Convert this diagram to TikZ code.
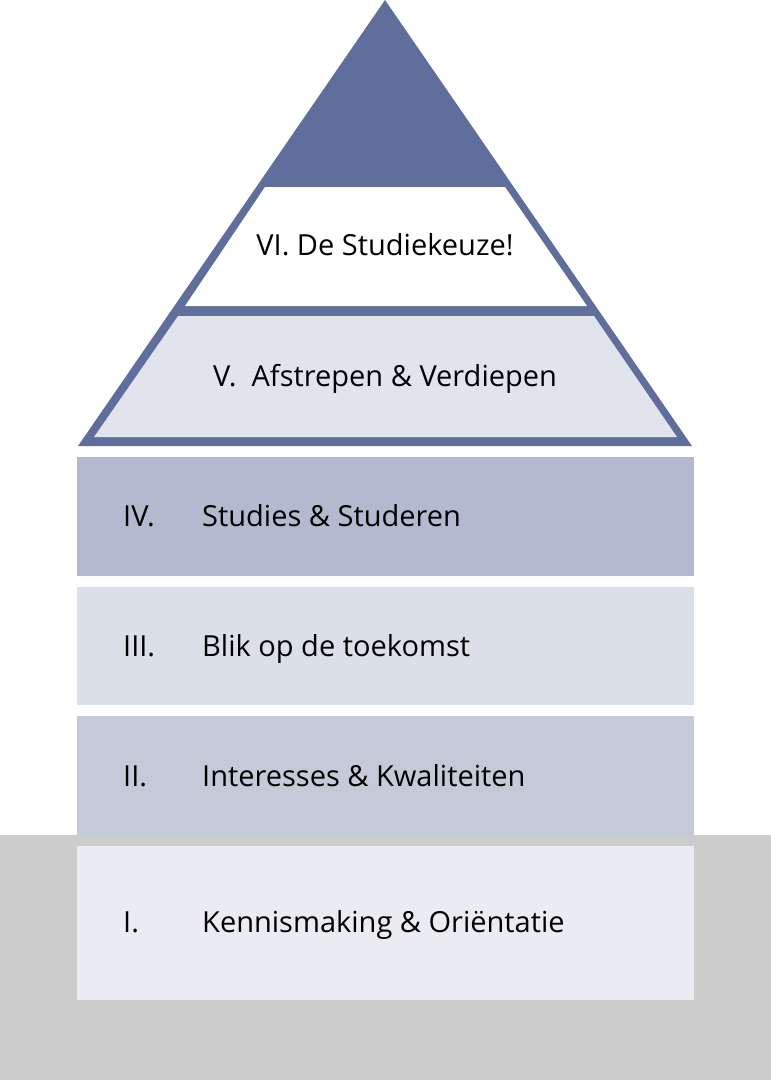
\documentclass[tikz,border=0pt]{standalone}
\usepackage{fontspec}
\setmainfont{Open Sans}
\definecolor{pyrdark}{HTML}{5F6E9A}
\definecolor{layerone}{HTML}{EBECF2}
\definecolor{layertwo}{HTML}{C5CAD9}
\definecolor{layerthree}{HTML}{DADFEA}
\definecolor{layerfour}{HTML}{B3B9CF}
\definecolor{layerfive}{HTML}{E1E4EC}
\definecolor{ground}{HTML}{CCCCCC}
\tikzset{
  lbl/.style={anchor=west, inner sep=0pt, text height=21pt, text depth=6pt,
    font=\fontsize{29}{34}\selectfont},
  toplbl/.style={inner sep=0pt, text height=21pt, text depth=6pt,
    font=\fontsize{29}{34}\selectfont}
}
\begin{document}
\begin{tikzpicture}[x=1pt, y=-1pt]
    \useasboundingbox (0, 0) rectangle (771, 1080);
    % ground
    \fill[ground] (0, 835) rectangle (771, 1080);
    % blocks
    \fill[layerfour]  (77, 457) rectangle (694, 576);
    \fill[layerthree] (77, 587) rectangle (694, 705);
    \fill[layertwo]   (77, 716) rectangle (694, 835);
    \fill[layerone]   (77, 846) rectangle (694, 1000);
    % pyramid
    \fill[pyrdark] (385, 0) -- (692, 446) -- (78, 446) -- cycle;
    \fill[white] (265, 187) -- (505, 187) -- (587, 306) -- (185, 306) -- cycle;
    \fill[layerfive] (178, 316) -- (594, 316) -- (677, 437) -- (94, 437) -- cycle;

    \node[toplbl] (six)  at (385, 248) {VI. De Studiekeuze!};
    \node[toplbl] (five) at (385, 379) {V.\ \ Afstrepen \& Verdiepen};
    \node[lbl] (n4) at (123, 519) {IV.};
    \node[lbl] (t4) at (202, 519) {Studies \& Studeren};
    \node[lbl] (n3) at (123, 649) {III.};
    \node[lbl] (t3) at (202, 649) {Blik op de toekomst};
    \node[lbl] (n2) at (123, 779) {II.};
    \node[lbl] (t2) at (202, 779) {Interesses \& Kwaliteiten};
    \node[lbl] (n1) at (123, 925) {I.};
    \node[lbl] (t1) at (202, 925) {Kennismaking \& Oriëntatie};
\end{tikzpicture}
\end{document}
